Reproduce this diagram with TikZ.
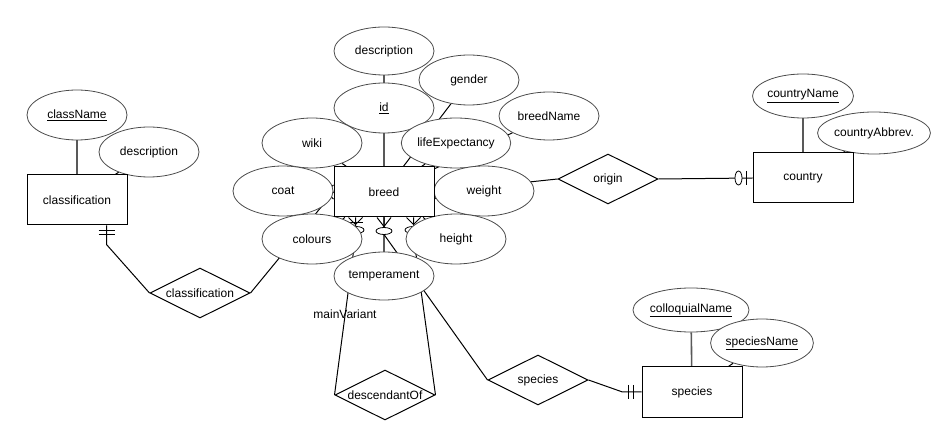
\documentclass[tikz,border=0pt]{standalone}
\usepackage{fontspec}
\setmainfont{Liberation Sans}
\usetikzlibrary{shapes.geometric,calc}
\pgfdeclarelayer{bg}
\pgfsetlayers{bg,main}
\begin{document}
\begin{tikzpicture}[x=1pt,y=-1pt,
  every node/.style={font=\fontsize{12}{14}\selectfont},
  attr/.style={ellipse, draw=black!70, line width=0.8pt, fill=white, inner sep=0pt,
               minimum width=100pt, minimum height=50pt},
  entity/.style={rectangle, draw=black, line width=1pt, fill=white,
                 minimum width=100pt, minimum height=50pt},
  rel/.style={diamond, draw=black, line width=1pt, fill=white, inner sep=0pt,
              shape aspect=2, minimum width=100pt, minimum height=50pt},
  link/.style={draw=black, line width=1pt},
  keylink/.style={draw=black!65, line width=1.6pt},
  ring/.style={ellipse, draw=black, line width=0.8pt, fill=white, inner sep=0pt}
]
\useasboundingbox (0,0) rectangle (951,446);

% ---- optional-participation rings (partly covered by the attributes) ----
\node[ring, minimum width=16pt, minimum height=7pt] (ringL) at (356,230) {};
\node[ring, minimum width=16pt, minimum height=7pt] (ringM) at (384,231) {};
\node[ring, minimum width=16pt, minimum height=7pt] (ringR) at (413,230) {};

% ---- attributes ----
\node[attr] (className) at (77,115) {\underline{className}};
\node[attr] (clsDesc) at (149,152) {description};

\node[attr, minimum height=48pt] (brDesc) at (384,51) {description};
\node[attr] (id) at (384,108) {\underline{id}};
\node[attr] (gender) at (469,80) {gender};
\node[attr, minimum height=48pt] (breedName) at (549,116) {breedName};
\node[attr] (wiki) at (312,143) {wiki};
\node[attr] (lifeExp) at (456,143) {lifeExpectancy};
\node[attr] (coat) at (283,191) {coat};
\node[attr] (weight) at (484,191) {weight};
\node[attr] (colours) at (312,239) {colours};
\node[attr] (height) at (456,239) {height};
\node[attr, minimum height=48pt] (temper) at (384,276) {temperament};

\node[attr, minimum height=44pt] (countryName) at (803,96) {\underline{countryName}};
\node[attr, minimum height=42pt] (countryAbbr) at (874,133) {countryAbbrev.};

\node[attr, minimum height=44pt] (colloq) at (691,310) {\underline{colloquialName}};
\node[attr, minimum height=48pt] (speciesName) at (762,343) {\underline{speciesName}};

% ---- entities ----
\node[entity] (classBox) at (77,200) {classification};
\node[entity] (breed) at (384,192) {breed};
\node[entity] (country) at (803,178) {country};
\node[entity] (species) at (692,392) {species};

% ---- relationships ----
\node[rel] (classRel) at (200,293) {classification};
\node[rel] (origin) at (608,179) {origin};
\node[rel] (speciesRel) at (538,380) {species};
\node[rel] (descRel) at (385,395) {descendantOf};
\node (mainVar) at (345,314) {mainVariant};

% ---- connectors, kept underneath the shapes ----
\begin{pgfonlayer}{bg}
  % attribute links
  \draw[keylink] (className) -- (classBox);
  \draw[link] (clsDesc) -- (classBox);
  \draw[keylink] (brDesc) -- (id);
  \draw[keylink] (id) -- (breed);
  \draw[link] (gender) -- (breed);
  \draw[link] (breedName) -- (breed);
  \draw[link] (wiki) -- (breed);
  \draw[link] (lifeExp) -- (breed);
  \draw[link] (coat) -- (breed);
  \draw[link] (weight) -- (breed);
  \draw[link] (colours) -- (breed);
  \draw[link] (height) -- (breed);
  \draw[keylink] (temper) -- (breed);
  \draw[keylink] (countryName) -- (country);
  \draw[link] (countryAbbr) -- (country);
  \draw[keylink] (colloq) -- (species);
  \draw[link] (speciesName) -- (species);

  % classification: exactly one classification, many breeds
  \coordinate (c1) at ($(classBox.south west)+(80,0)$);
  \coordinate (c2) at ($(c1)+(0,19)$);
  \draw[link] (c1) -- (c2) -- (classRel.west);
  \draw[link] ($(c1)+(-8,5)$) -- ++(16,0);
  \draw[link] ($(c1)+(-8,9)$) -- ++(16,0);
  \draw[link] (classRel.east) -- (breed.west);
  \draw[link] ($(breed.west)+(0,-7)$) -- ($(breed.west)+(-8,0)$) -- ($(breed.west)+(0,7)$);

  % origin: breeds to zero-or-one country
  \draw[link] (origin.west) -- (breed.east);
  \draw[link] ($(breed.east)+(0,-7)$) -- ($(breed.east)+(8,0)$) -- ($(breed.east)+(0,7)$);
  \draw[link] (origin.east) -- (country.west);
  \node[ring, minimum width=7pt, minimum height=14pt] (ringC) at ($(country.west)+(-14,0)$) {};
  \draw[link] ($(country.west)+(-6,-7)$) -- ++(0,14);

  % species: breeds to exactly one species
  \coordinate (s1) at ($(breed.south)+(0,17)$);
  \draw[link] (breed.south) -- (s1) -- (speciesRel.west);
  \draw[link] ($(breed.south)+(-7,0)$) -- ($(breed.south)+(0,9)$) -- ($(breed.south)+(7,0)$);
  \coordinate (s2) at ($(speciesRel.east)+(34,12)$);
  \draw[link] (speciesRel.east) -- (s2) -- (species.west);
  \draw[link] ($(species.west)+(-13,-7)$) -- ++(0,14);
  \draw[link] ($(species.west)+(-8,-7)$) -- ++(0,14);

  % descendantOf: breed to breed
  \coordinate (dL0) at ($(breed.south west)+(22,0)$);
  \coordinate (dL1) at ($(dL0)+(0,19)$);
  \draw[link] (dL0) -- (dL1) -- (descRel.west);
  \draw[link] ($(dL0)+(-7,0)$) -- ($(dL0)+(0,7)$) -- ($(dL0)+(7,0)$);
  \draw[link] ($(dL0)+(-8,5)$) -- ++(15,0);
  \coordinate (dR0) at ($(breed.south east)+(-21,0)$);
  \coordinate (dR1) at ($(dR0)+(0,19)$);
  \draw[link] (dR0) -- (dR1) -- (descRel.east);
  \draw[link] ($(dR0)+(-7,0)$) -- ($(dR0)+(0,7)$) -- ($(dR0)+(7,0)$);
\end{pgfonlayer}
\end{tikzpicture}
\end{document}
